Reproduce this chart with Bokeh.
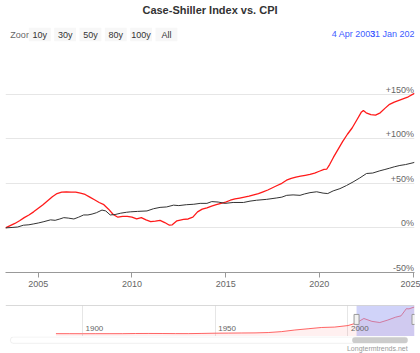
from bokeh.plotting import figure
from bokeh.layouts import column
from bokeh.models import Range1d, FixedTicker, CustomJSTickFormatter, Span, BoxAnnotation, ColumnDataSource
from bokeh.core.properties import value
from bokeh.embed import file_html
from bokeh.resources import INLINE

FONT = "Liberation Sans"

# ---------------- data ----------------
title_text = "Case-Shiller Index vs. CPI"

# Case-Shiller index, % change since Apr 2003
cs_years = [2003.25, 2003.5, 2003.75, 2004.0, 2004.25, 2004.5, 2004.75,
            2005.0, 2005.25, 2005.5, 2005.75, 2006.0, 2006.25, 2006.5, 2006.75,
            2007.0, 2007.25, 2007.5, 2007.75, 2008.0, 2008.25, 2008.5, 2008.75,
            2009.0, 2009.25, 2009.5, 2009.75, 2010.0, 2010.25, 2010.5, 2010.75,
            2011.0, 2011.25, 2011.5, 2011.75, 2012.0, 2012.15, 2012.4, 2012.75,
            2013.0, 2013.25, 2013.5, 2013.75, 2014.0, 2014.25, 2014.5, 2014.75,
            2015.0, 2015.25, 2015.5, 2015.75, 2016.0, 2016.25, 2016.5, 2016.75,
            2017.0, 2017.25, 2017.5, 2017.75, 2018.0, 2018.25, 2018.5, 2018.75,
            2019.0, 2019.25, 2019.5, 2019.75, 2020.0, 2020.25, 2020.4, 2020.55, 2020.75,
            2021.0, 2021.25, 2021.5, 2021.75, 2022.0, 2022.25, 2022.35, 2022.5, 2022.75,
            2023.0, 2023.25, 2023.5, 2023.75, 2024.0, 2024.25, 2024.5, 2024.75,
            2025.0, 2025.08]
cs_pct = [0, 2.5, 5, 8, 11.5, 14.5, 18,
          22, 26, 30.5, 35, 38.5, 40, 40.5, 40,
          40, 39, 37.5, 34.5, 31.5, 28.5, 26, 21,
          15, 12, 13, 13, 12, 10, 11.5, 9,
          7, 7.5, 8.5, 6, 3, 3.5, 8, 9.5,
          10, 12, 18, 21, 22.5, 24.5, 26, 27.5,
          29, 31, 32.5, 33.5, 34.5, 35.5, 37, 38.5,
          40.5, 42.5, 45, 47.5, 50, 53.5, 55.5, 57,
          58, 59, 60, 61.5, 63.5, 65.5, 66, 71, 79,
          88, 97, 105, 112, 121, 130, 131.5, 129, 127,
          126.5, 129, 134, 138.5, 141, 143, 145, 147,
          150, 151]

# CPI, % change since Apr 2003
cpi_years = [2003.25, 2003.6, 2003.9, 2004.2, 2004.5, 2004.76, 2005.0, 2005.3,
             2005.65, 2005.9, 2006.15, 2006.36, 2006.6, 2006.9, 2007.15, 2007.42,
             2007.65, 2007.87, 2008.1, 2008.4, 2008.6, 2008.84, 2009.1, 2009.4,
             2009.7, 2009.91, 2010.3, 2010.8, 2011.15, 2011.5, 2011.85, 2012.22,
             2012.5, 2012.9, 2013.3, 2013.64, 2014.0, 2014.26, 2014.6, 2014.97,
             2015.4, 2015.95, 2016.3, 2016.65, 2017.19, 2017.7, 2018.0, 2018.26,
             2018.6, 2018.97, 2019.2, 2019.5, 2019.86, 2020.2, 2020.45, 2020.74,
             2021.1, 2021.45, 2021.8, 2022.16, 2022.52, 2022.85, 2023.23, 2023.5,
             2023.76, 2024.0, 2024.3, 2024.6, 2025.0, 2025.08]
cpi_pct = [0, 0.5, 1, 3, 3.5, 4.5, 5.5, 7,
           9, 8.5, 10, 11.5, 11, 10, 12, 14.5,
           14.5, 15.5, 17, 20, 19, 14.5, 15, 16.5,
           17.5, 18, 18.5, 19, 21.5, 23, 23.5, 25.5,
           25, 26, 26.5, 27.5, 27.5, 29.5, 29, 27.5,
           28.5, 28.5, 30, 31, 32, 33.5, 34.5, 36.5,
           37, 36.5, 38, 39.5, 40.5, 39, 38.5, 41.5,
           44, 47.5, 51.5, 56, 61, 61.5, 64, 65.5,
           67, 68.5, 70, 71, 73, 73.5]

# long-term Case-Shiller index shown in the navigator
nav_years = [1890, 1895, 1900, 1905, 1910, 1915, 1920, 1925, 1930, 1935, 1940,
             1945, 1950, 1955, 1960, 1965, 1970, 1975, 1980, 1985, 1990, 1995,
             2000, 2003, 2006, 2009, 2012, 2015, 2018, 2020, 2022, 2023, 2025]
nav_index = [3.6, 3.4, 3.2, 3.5, 3.5, 3.6, 5.5, 6.0, 5.5, 4.5, 4.3,
             6.5, 9.3, 10.5, 11.8, 13, 17, 28, 47, 62, 77, 82,
             100, 128, 184, 150, 136, 165, 200, 215, 300, 298, 320]
nav_start_year = 1871

x_ticks = [2005, 2010, 2015, 2020, 2025]
y_ticks = [-50, 0, 50, 100, 150]
y_tick_labels = ["-50%", "0%", "+50%", "+100%", "+150%"]
y_min, y_max = -50, 200
nav_ticks = [1900, 1950, 2000]
nav_tick_labels = ["1900", "1950", "2000"]
zoom_buttons = ["10y", "30y", "50y", "80y", "100y", "All"]
date_labels = ["4 Apr 2003", "31 Jan 2025"]
credit = "Longtermtrends.net"

W = 420

# ---------------- header (title, range selector) ----------------
hdr = figure(width=W, height=49, x_range=Range1d(0, W), y_range=Range1d(49, 0),
             x_axis_location=None, y_axis_location=None, toolbar_location=None,
             output_backend="svg", min_border=0)
hdr.outline_line_color = None
hdr.grid.visible = False
hdr.text(x=[W / 2], y=[9], text=[title_text], text_align="center", text_baseline="middle",
         text_font=value(FONT), text_font_size="11px", text_font_style="bold", text_color="#333333")
hdr.text(x=[5], y=[34], text=["Zoom"], text_align="left", text_baseline="middle",
         text_font=value(FONT), text_font_size="9px", text_color="#666666")
btn_left = [24 + 26 * i for i in range(len(zoom_buttons))]
btn_right = [l + 22.5 for l in btn_left]
hdr.quad(left=btn_left, right=btn_right, top=27.3, bottom=40.7, fill_color="#f7f7f7", line_color=None)
hdr.text(x=[(l + r) / 2 for l, r in zip(btn_left, btn_right)], y=[34] * len(zoom_buttons),
         text=zoom_buttons, text_align="center", text_baseline="middle",
         text_font=value(FONT), text_font_size="9px", text_color="#333333")
hdr.text(x=[335, 374.3], y=[33.5, 33.5], text=date_labels, text_align="left", text_baseline="middle",
         text_font=value(FONT), text_font_size="9px", text_color="#3d5cff")

# ---------------- main chart ----------------
p = figure(width=W, height=251, x_range=Range1d(cs_years[0], cs_years[-1]),
           y_range=Range1d(y_min, y_max), y_axis_location=None,
           toolbar_location=None, output_backend="svg",
           min_border_left=5, min_border_right=6, min_border_top=0, min_border_bottom=28)
p.outline_line_color = None
p.background_fill_color = "white"
p.xgrid.visible = False
p.ygrid.ticker = FixedTicker(ticks=y_ticks + [y_max])
p.ygrid.grid_line_color = "#e6e6e6"
p.ygrid.grid_line_width = 1
p.xaxis.ticker = FixedTicker(ticks=x_ticks)
p.xaxis.formatter = CustomJSTickFormatter(code="return tick.toFixed(0);")
p.xaxis.axis_line_color = "#999999"
p.xaxis.major_tick_line_color = "#999999"
p.xaxis.major_tick_out = 5
p.xaxis.major_tick_in = 0
p.xaxis.minor_tick_line_color = None
p.xaxis.major_label_standoff = 3
p.xaxis.major_label_text_font = FONT
p.xaxis.major_label_text_font_size = "9px"
p.xaxis.major_label_text_color = "#666666"

p.line(cs_years, cs_pct, line_color="#ff1a1a", line_width=1.3)
p.line(cpi_years, cpi_pct, line_color="#333333", line_width=1.0)
p.text(x=[cs_years[-1]] * len(y_ticks), y=y_ticks, text=y_tick_labels,
       text_align="right", text_baseline="middle", y_offset=-4.5, x_offset=-0.5,
       text_font=value(FONT), text_font_size="9px", text_color="#666666")

# ---------------- navigator ----------------
nav_lo, nav_hi = -30, 338
nav = figure(width=W, height=36, x_range=Range1d(nav_start_year, cs_years[-1]),
             y_range=Range1d(nav_lo, nav_hi), x_axis_location=None, y_axis_location=None,
             toolbar_location=None, output_backend="svg",
             min_border_left=5, min_border_right=6, min_border_top=5, min_border_bottom=0)
nav.outline_line_color = None
nav.extra_y_ranges = {"pos": Range1d(0, 1)}
nav.ygrid.visible = False
nav.xgrid.ticker = FixedTicker(ticks=nav_ticks)
nav.xgrid.grid_line_color = "#e6e6e6"
nav.varea(x=nav_years, y1=[nav_lo] * len(nav_years), y2=nav_index, fill_color="#ff0000", fill_alpha=0.06)
nav.line(nav_years, nav_index, line_color="#ff3333", line_alpha=0.75, line_width=1)
nav.quad(left=[cs_years[0]], right=[cs_years[-1]], bottom=[0], top=[1], y_range_name="pos",
         fill_color="#8f95f0", fill_alpha=0.42, line_color=None)
nav.text(x=nav_ticks, y=[0.27] * 3, text=nav_tick_labels, y_range_name="pos", x_offset=3,
         text_align="left", text_baseline="middle",
         text_font=value(FONT), text_font_size="8px", text_color="#666666")
nav.add_layout(Span(location=1, dimension="width", y_range_name="pos", line_color="#b3b3b3", line_width=1))
nav.rect(x=[cs_years[0], cs_years[-1]], y=[0.55, 0.55], width=5, height=10,
         width_units="screen", height_units="screen", y_range_name="pos",
         fill_color="#f2f2f2", line_color="#999999", line_width=1)

# ---------------- footer (scrollbar + credit) ----------------
ftr = figure(width=W, height=17, x_range=Range1d(0, W), y_range=Range1d(17, 0),
             x_axis_location=None, y_axis_location=None, toolbar_location=None,
             output_backend="svg", min_border=0)
ftr.outline_line_color = None
ftr.grid.visible = False
ftr.add_layout(BoxAnnotation(left=5, right=413, top=0.5, bottom=6.8, fill_color="white", fill_alpha=1,
                             line_color="#cccccc", line_width=1, border_radius=3))
ftr.add_layout(BoxAnnotation(left=356, right=413, top=0.8, bottom=6.5, fill_color="#cccccc", fill_alpha=1,
                             line_color=None, border_radius=3))
ftr.text(x=[413], y=[11.5], text=[credit], text_align="right", text_baseline="middle",
         text_font=value(FONT), text_font_size="7px", text_color="#999999")

layout = column(hdr, p, nav, ftr, spacing=0)
open("out.html", "w").write(file_html(layout, INLINE))
